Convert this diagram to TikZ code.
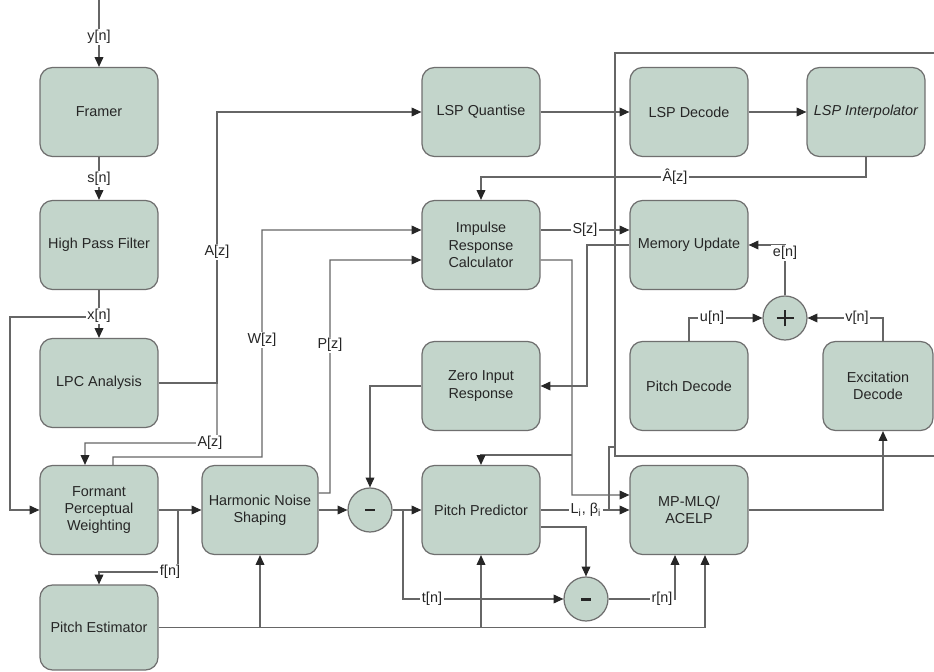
\documentclass[tikz,border=0pt]{standalone}
\usepackage{fontspec}
\setmainfont{Liberation Sans}
\usetikzlibrary{arrows.meta}
\definecolor{boxfill}{HTML}{C3D5CB}
\definecolor{boxline}{HTML}{6F6F6F}
\definecolor{wirec}{HTML}{666666}
\definecolor{inkc}{HTML}{262626}

\begin{document}
\begin{tikzpicture}[x=0.02cm,y=-0.02cm,
  font=\fontsize{8.2}{9.9}\selectfont, text=inkc,
  block/.style={draw=boxline, line width=0.7pt, fill=boxfill, rounded corners=0.25cm,
    minimum width=2.36cm, minimum height=1.78cm, align=center, inner sep=2pt},
  junction/.style={circle, draw=boxline, line width=0.7pt, fill=boxfill,
    minimum size=0.88cm, inner sep=0pt},
  wire/.style={draw=wirec, line width=0.6pt},
  arr/.style={wire, -{Triangle[length=5.6pt,width=5pt,color=black!85]}},
  lbl/.style={fill=white, inner sep=1pt}
]
\useasboundingbox (0,0) rectangle (934,672);
\fill[white] (0,0) rectangle (934,672);

% ---- processing blocks ----
\node[block] (framer) at (99,112) {Framer};
\node[block] (hpf) at (99,245) {High Pass Filter};
\node[block] (lpc) at (99,383) {LPC Analysis};
\node[block] (fpw) at (99,510) {Formant\\Perceptual\\Weighting};
\node[block, minimum height=1.7cm] (pest) at (99,627.5) {Pitch Estimator};
\node[block, minimum width=2.32cm] (hns) at (260,510) {Harmonic Noise\\Shaping};
\node[block] (lspq) at (481,112) {LSP Quantise};
\node[block] (impr) at (481,245) {Impulse\\Response\\Calculator};
\node[block] (zir) at (481,386) {Zero Input\\Response};
\node[block] (ppred) at (481,510) {Pitch Predictor};
\node[block] (lspd) at (689,112) {LSP Decode};
\node[block] (lspi) at (866,112) {\itshape LSP Interpolator};
\node[block] (memu) at (689,245) {Memory Update};
\node[block] (pdec) at (689,386) {Pitch Decode};
\node[block, minimum width=2.2cm] (exc) at (878,386) {Excitation\\Decode};
\node[block] (mp) at (689,510) {MP-MLQ/\\ACELP};

% ---- summing junctions ----
\node[junction] (min1) at (370,510) {};
\node[junction] (min2) at (586,599) {};
\node[junction] (plus) at (785,318) {};
\fill[inkc] ([xshift=-0.1cm,yshift=-0.03cm]min1.center) rectangle ([xshift=0.1cm,yshift=0.03cm]min1.center);
\fill[inkc] ([xshift=-0.1cm,yshift=-0.03cm]min2.center) rectangle ([xshift=0.1cm,yshift=0.03cm]min2.center);
\draw[inkc, line width=1.6pt] ([xshift=-0.17cm]plus.center) -- ([xshift=0.17cm]plus.center);
\draw[inkc, line width=1.6pt] ([yshift=-0.17cm]plus.center) -- ([yshift=0.17cm]plus.center);

% ---- analysis chain ----
\coordinate (src) at (99,0);
\draw[arr] (src) -- (framer.north);
\draw[arr] (framer.south) -- (hpf.north);
\draw[arr] (hpf.south) -- (lpc.north);
\draw[arr] (99,317) -- (10,317) -- (10,510) -- (fpw.west);

% LPC coefficients
\draw[arr] (lpc.east) -- (217,383) -- (217,112) -- (lspq.west);
\draw[arr] (217,383) -- (217,443) -- (85,443) -- ([xshift=-0.28cm]fpw.north);

% weighting filter W[z] and P[z]
\draw[arr] ([xshift=0.28cm]fpw.north) -- (113,457) -- (262,457) -- (262,230) -- ([yshift=0.3cm]impr.west);
\draw[arr] ([yshift=0.34cm]hns.east) -- (330,493) -- (330,260) -- ([yshift=-0.3cm]impr.west);

% weighted speech
\draw[arr] (fpw.east) -- (hns.west);
\draw[arr] (178,510) -- (178,572) -- (99,572) -- (pest.north);
\draw[arr] (hns.east) -- (min1.west);
\draw[arr] (zir.west) -| (min1.north);
\draw[arr] (min1.east) -- (ppred.west);
\draw[arr] (403,510) |- (min2.west);
\draw[arr] (ppred.east) -- (mp.west);
\draw[arr] ([yshift=-0.34cm]ppred.east) -| (min2.north);
\draw[arr] (min2.east) -| ([xshift=-0.28cm]mp.south);

% pitch estimate
\draw[arr] (pest.east) -| ([xshift=0.32cm]mp.south);
\draw[arr] (hns.south |- pest.east) -- (hns.south);
\draw[arr] (ppred.south |- pest.east) -- (ppred.south);

% LSP path
\draw[arr] (lspq.east) -- (lspd.west);
\draw[arr] (lspd.east) -- (lspi.west);
\draw[arr] (lspi.south) -- (866,177) -| (impr.north);

% impulse response and memory
\draw[arr] ([yshift=0.3cm]impr.east) -- ([yshift=0.3cm]memu.west);
\draw[arr] (memu.west) -- (587,245) |- (zir.east);
\draw[arr] ([yshift=-0.3cm]impr.east) -- (572,260) |- ([yshift=0.3cm]mp.west);
\draw[arr] (572,455) -| (ppred.north);

% parameters to decoder side
\draw[wire] (934,53) -- (615,53) -- (615,456) -- (934,456);
\draw[wire] (609,510) -- (609,447) -- (615,447);
\draw[arr] (mp.east) -| ([xshift=0.1cm]exc.south);

% excitation synthesis
\draw[arr] (pdec.north) |- (plus.west);
\draw[arr] ([xshift=0.1cm]exc.north) |- (plus.east);
\draw[arr] (plus.north) |- (memu.east);

% ---- signal labels ----
\node[lbl] at (99,37) {y[n]};
\node[lbl] at (99,179) {s[n]};
\node[lbl] at (99,316) {x[n]};
\node[lbl] at (217,252) {A[z]};
\node[lbl] at (210,443) {A[z]};
\node[lbl] at (262,340) {W[z]};
\node[lbl] at (330,345) {P[z]};
\node[lbl] at (170,572) {f[n]};
\node[lbl] at (675,177) {Â[z]};
\node[lbl] at (585,230) {S[z]};
\node[lbl] at (785,253) {e[n]};
\node[lbl] at (712,318) {u[n]};
\node[lbl] at (857,318) {v[n]};
\node[lbl] at (432,599) {t[n]};
\node[lbl] at (586,510) {L\textsubscript{i}, β\textsubscript{i}};
\node[lbl] at (662,599) {r[n]};
\end{tikzpicture}
\end{document}
